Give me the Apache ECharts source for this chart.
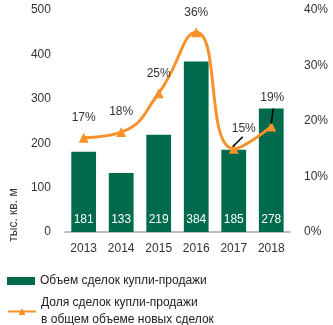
<!DOCTYPE html>
<html>
<head>
<meta charset="utf-8">
<script src="https://cdn.jsdelivr.net/npm/echarts@6/dist/echarts.min.js"></script>
<style>
html, body { margin: 0; padding: 0; background: #fff; }
#chart { width: 333px; height: 325px; }
</style>
</head>
<body>
<div id="chart"></div>
<script>
const years = ['2013', '2014', '2015', '2016', '2017', '2018'];
const volume = [181, 133, 219, 384, 185, 278];
const share = [17, 18, 25, 36, 15, 19];
const volumeName = 'Объем сделок купли-продажи';
const shareName = 'Доля сделок купли-продажи\nв общем объеме новых сделок';
const unitName = 'тыс. кв. м';

const green = '#006B4C';
const orange = '#F7922B';
const textColor = '#333333';
const font = 'Liberation Sans, Arial, sans-serif';

// labels that sit beside their point and get a short leader line
const calloutOffsets = { 4: [10, 0], 5: [1, -9] };

const shareData = share.map(function (v, i) {
  if (calloutOffsets[i]) {
    return { value: v, label: { offset: calloutOffsets[i] } };
  }
  return v;
});

const chart = echarts.init(document.getElementById('chart'));
chart.setOption({
  animation: false,
  textStyle: { fontFamily: font },
  grid: { left: 62, right: 43, top: 10, bottom: 93, containLabel: false },
  legend: [
    {
      data: [{ name: volumeName, icon: 'rect' }],
      left: 7, top: 275, padding: 0,
      itemWidth: 28, itemHeight: 8, itemGap: 5,
      textStyle: { color: '#222', fontSize: 12, fontFamily: font }
    },
    {
      data: [{ name: shareName }],
      left: 7, top: 286, padding: 0,
      itemWidth: 28, itemHeight: 9,
      textStyle: { color: '#222', fontSize: 12, lineHeight: 17, padding: [17, 0, 0, 0], fontFamily: font }
    }
  ],
  xAxis: {
    type: 'category',
    data: years,
    axisLine: { lineStyle: { color: '#A6A6A6', width: 1.5 } },
    axisTick: { show: false },
    axisLabel: { color: textColor, fontSize: 12, margin: 11 }
  },
  yAxis: [
    {
      type: 'value', min: 0, max: 500, interval: 100,
      name: unitName, nameLocation: 'middle', nameGap: 28,
      nameTextStyle: { color: textColor, fontSize: 12, padding: [0, 188, 0, 0] },
      axisLine: { show: false }, axisTick: { show: false },
      splitLine: { show: false },
      axisLabel: { color: textColor, fontSize: 12, margin: 14 }
    },
    {
      type: 'value', min: 0, max: 40, interval: 10,
      axisLine: { show: false }, axisTick: { show: false },
      splitLine: { show: false },
      axisLabel: { color: textColor, fontSize: 12, margin: 14, formatter: '{value}%' }
    }
  ],
  series: [
    {
      name: volumeName,
      type: 'bar',
      data: volume,
      barWidth: '66%',
      itemStyle: { color: green },
      label: {
        show: true, position: 'insideBottom', distance: 6,
        color: '#fff', fontSize: 12
      }
    },
    {
      name: shareName,
      type: 'line',
      yAxisIndex: 1,
      data: shareData,
      smooth: 0.5,
      symbol: 'triangle',
      symbolSize: 10,
      lineStyle: { color: orange, width: 3 },
      itemStyle: { color: orange },
      label: {
        show: true, position: 'top', distance: 9,
        color: textColor, fontSize: 12, formatter: '{c}%'
      }
    }
  ]
});

// leader lines from the shifted labels down to their points
const leaderSpecs = [[4, [9, -12], [-1, -2]], [5, [2, -18], [0, -3]]];
const leaders = leaderSpecs.map(function (d) {
  const i = d[0];
  const px = chart.convertToPixel({ xAxisIndex: 0 }, years[i]);
  const py = chart.convertToPixel({ yAxisIndex: 1 }, share[i]);
  return {
    type: 'line',
    z: 100,
    zlevel: 1,
    shape: { x1: px + d[1][0], y1: py + d[1][1], x2: px + d[2][0], y2: py + d[2][1] },
    style: { stroke: '#000', lineWidth: 1.6 }
  };
});
chart.setOption({ graphic: { elements: leaders } });
</script>
</body>
</html>
